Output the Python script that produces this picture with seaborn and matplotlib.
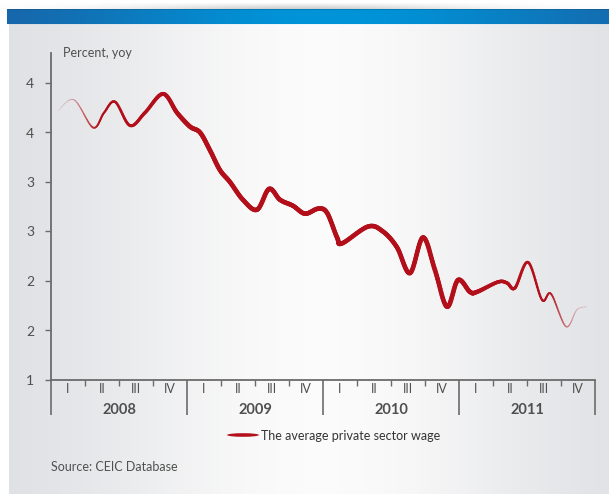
import numpy as np
import pandas as pd
import matplotlib
matplotlib.use("Agg")
import matplotlib.pyplot as plt
from matplotlib.patches import Ellipse
import seaborn as sns

# ---- data: average private sector wage, percent yoy ----
# time axis in months since the start of January 2008
months = [0.62, 2.03, 3.71, 4.68, 5.65, 6.97, 8.29, 9.88, 11.12, 12.26,
          13.15, 14.03, 14.91, 15.79, 16.94, 18.18, 19.24, 20.21, 21.35, 22.41,
          23.56, 24.35, 25.24, 25.68, 27.97, 29.29, 30.53, 31.68, 32.82, 33.88,
          34.94, 35.91, 36.97, 37.59, 39.44, 40.24, 40.94, 42.09, 43.32, 44.12,
          45.44, 46.41, 47.29]
wage_yoy = [4.22, 4.33, 4.05, 4.20, 4.31, 4.07, 4.20, 4.39, 4.20, 4.06,
            4.00, 3.82, 3.62, 3.50, 3.32, 3.22, 3.43, 3.32, 3.26, 3.18,
            3.23, 3.19, 2.94, 2.88, 3.05, 3.00, 2.84, 2.58, 2.94, 2.61,
            2.24, 2.51, 2.39, 2.39, 2.49, 2.48, 2.43, 2.69, 2.31, 2.37,
            2.04, 2.21, 2.24]
years = ["2008", "2009", "2010", "2011"]
quarters = ["I", "II", "III", "IV"]
y_ticks = [1.5, 2.0, 2.5, 3.0, 3.5, 4.0, 4.5]
y_tick_labels = ["1", "2", "2", "3", "3", "4", "4"]
series_label = "The average private sector wage"
source_note = "Source: CEIC Database"

W, H = 609, 494
sns.set_style("white")
plt.rcParams["font.family"] = ["Lato", "DejaVu Sans"]
plt.rcParams["lines.solid_capstyle"] = "round"

fig = plt.figure(figsize=(W / 100, H / 100), dpi=100)

# ---- page background: blue header band over a grey panel ----
img = np.ones((H, W, 3))
xs = np.arange(W)
# soft shadow above the band
sh = np.exp(-((xs - 300) / 170.0) ** 2)
for r in range(3, 10):
    k = (r - 3) / 7.0
    img[r, :, :] = 1 - 0.22 * sh[:, None] * k
# blue band
t = np.exp(-((xs - 330) / 260.0) ** 2)
edge = np.array([0.11, 0.36, 0.62])
mid = np.array([0.0, 0.58, 0.85])
band = edge[None, :] * (1 - t[:, None]) + mid[None, :] * t[:, None]
img[10:25, 7:, :] = band[None, 7:, :]
img[10, 7:, :] *= 0.85
# grey panel with a light centre
g = np.exp(-((xs - 320) / 230.0) ** 2)
lo = np.array([0.86, 0.865, 0.88])
hi = np.array([0.985, 0.985, 0.985])
panel = lo[None, :] * (1 - g[:, None]) + hi[None, :] * g[:, None]
img[25:, 9:, :] = panel[None, 9:, :]
bg = fig.add_axes([0, 0, 1, 1])
bg.imshow(img, aspect="auto", interpolation="bilinear")
bg.set_axis_off()

# ---- plotting area ----
ax = fig.add_axes([51 / W, (H - 380) / H, 544 / W, (380 - 53) / H])
ax.set_facecolor("none")
ax.patch.set_alpha(0)


def catmull_rom(px, py, n=14):
    P = np.column_stack([px, py])
    P = np.vstack([P[0], P, P[-1]])
    out = []
    for i in range(1, len(P) - 2):
        p0, p1, p2, p3 = P[i - 1], P[i], P[i + 1], P[i + 2]
        for tt in np.linspace(0, 1, n, endpoint=False):
            out.append(0.5 * (2 * p1 + (-p0 + p2) * tt
                              + (2 * p0 - 5 * p1 + 4 * p2 - p3) * tt ** 2
                              + (-p0 + 3 * p1 - 3 * p2 + p3) * tt ** 3))
    out.append(P[-2])
    return np.array(out)


curve = catmull_rom(months, wage_yoy)
cx, cy = curve[:, 0], curve[:, 1]

# stroke tapers in width and fades at both ends
rise = np.clip((cx - months[0]) / 11.0, 0, 1)
fall = np.clip((months[-1] - cx) / 10.5, 0, 1)
f = np.minimum(rise, fall)
lw = 0.3 + 3.0 * f ** 0.9
fade = np.clip(f * 3.0, 0.22, 1.0)
red = np.array([0.70, 0.06, 0.10])
paper = np.array([0.88, 0.885, 0.895])

rows = []
pal, sizes = {}, {}
for k in range(len(cx) - 1):
    rows.append((cx[k], cy[k], k))
    rows.append((cx[k + 1], cy[k + 1], k))
    pal[k] = tuple(paper * (1 - fade[k]) + red * fade[k])
    sizes[k] = lw[k]
df = pd.DataFrame(rows, columns=["month", "value", "seg"])

sns.lineplot(data=df, x="month", y="value", hue="seg", size="seg",
             palette=pal, sizes=sizes, estimator=None, sort=False,
             legend=False, ax=ax)

ax.set_xlim(0, 48)
ax.set_ylim(1.5, 4.5 + 30 / 99)
ax.set_xlabel("")
ax.set_ylabel("")

axis_col = "#6b6b6b"
text_col = "#505050"
for s in ["top", "right"]:
    ax.spines[s].set_visible(False)
for s in ["left", "bottom"]:
    ax.spines[s].set_color(axis_col)
    ax.spines[s].set_linewidth(1.3)

ax.set_yticks(y_ticks)
ax.set_yticklabels(y_tick_labels)
ax.tick_params(axis="y", left=True, direction="out", length=4, width=1.0,
               color=axis_col, labelcolor=text_col, labelsize=10, pad=8)

# year boundaries as long ticks, quarter boundaries as short ones
ax.set_xticks(np.arange(0, 49, 12))
ax.set_xticks(np.arange(0, 49, 3), minor=True)
ax.set_xticklabels([])
ax.tick_params(axis="x", which="both", bottom=True)
ax.tick_params(axis="x", which="major", direction="out", length=25,
               width=1.2, color=axis_col)
ax.tick_params(axis="x", which="minor", direction="out", length=4.5,
               width=1.0, color=axis_col)

trans = ax.get_xaxis_transform()
for yi, year in enumerate(years):
    for qi, q in enumerate(quarters):
        ax.text(yi * 12 + qi * 3 + 1.5, -9 / 327, q, transform=trans,
                ha="center", va="center", fontsize=9, color=text_col)
    ax.text(yi * 12 + 6, -30 / 327, year, transform=trans, ha="center",
            va="center", fontsize=10.5, fontweight="bold", color=text_col)

fig.text(63 / W, 1 - 53 / H, "Percent, yoy", ha="left", va="center",
         fontsize=9, color=text_col)

# legend
leg = Ellipse((243 / W, 1 - 435 / H), 32 / W, 3.6 / H,
              transform=fig.transFigure, color="#b3101b", lw=0)
fig.add_artist(leg)
fig.text(261 / W, 1 - 436 / H, series_label, ha="left", va="center",
         fontsize=9, color="#333333")
fig.text(51 / W, 1 - 467 / H, source_note, ha="left", va="center",
         fontsize=9, color=text_col)

fig.savefig("out.png", dpi=100)
